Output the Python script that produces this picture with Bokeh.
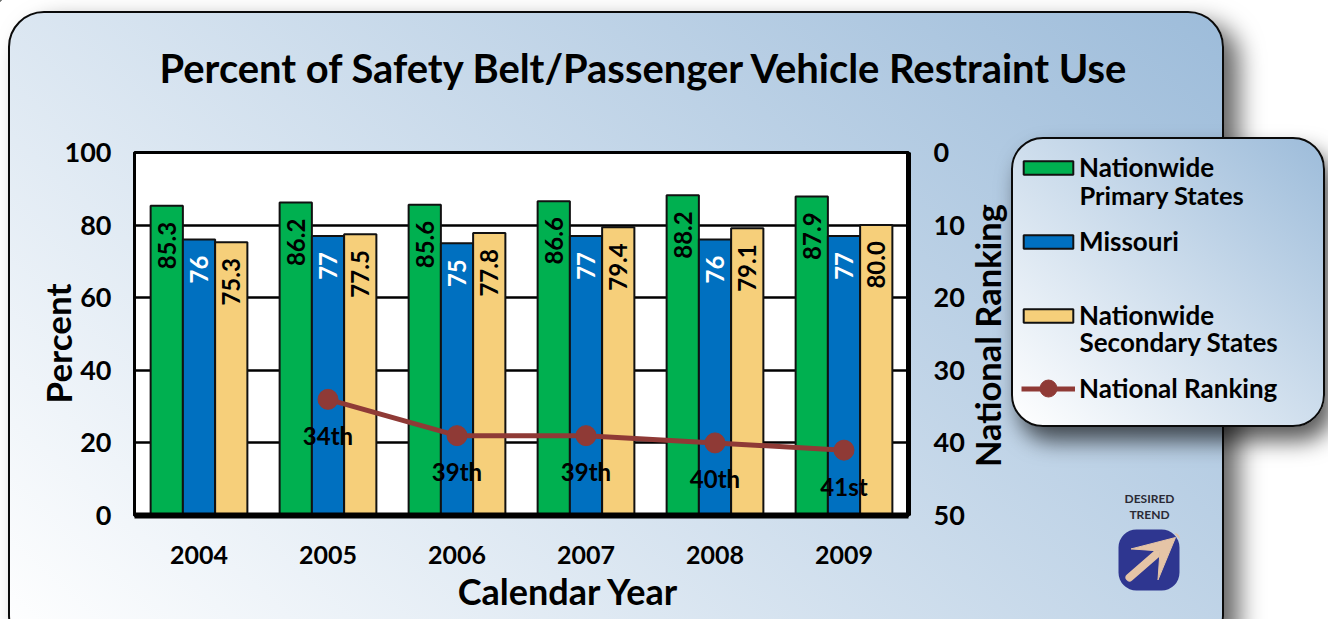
from bokeh.embed import file_html
from bokeh.resources import INLINE
from bokeh.plotting import figure
from bokeh.layouts import column
from bokeh.models import (Range1d, LinearAxis, FixedTicker, Legend, LegendItem, BoxAnnotation, Grid,
                          Arrow, VeeHead, InlineStyleSheet, NumeralTickFormatter)
from bokeh.core.properties import value

years = [2004, 2005, 2006, 2007, 2008, 2009]
primary = [85.3, 86.2, 85.6, 86.6, 88.2, 87.9]
missouri = [76, 77, 75, 77, 76, 77]
secondary = [75.3, 77.5, 77.8, 79.4, 79.1, 80.0]
rank_years = [2005, 2006, 2007, 2008, 2009]
ranks = [34, 39, 39, 40, 41]
rank_labels = ["34th", "39th", "39th", "40th", "41st"]
primary_labels = ["85.3", "86.2", "85.6", "86.6", "88.2", "87.9"]
missouri_labels = ["76", "77", "75", "77", "76", "77"]
secondary_labels = ["75.3", "77.5", "77.8", "79.4", "79.1", "80.0"]

FONT = "Lato"
GREEN, BLUE, TAN, RED = "#00b050", "#0070c0", "#f6cf7a", "#8f3a36"
W, H = 1328, 619

css = """
:host { position: relative; }
:host::before {
  content: ""; position: absolute; z-index: -1; box-sizing: border-box;
  left: 8px; top: 11px; width: 1216px; height: 640px; border-radius: 36px;
  border: 2.5px solid #0a0a0a;
  background: linear-gradient(42deg, #ffffff 0%, #9dbcda 100%);
  box-shadow: 15px 12px 24px rgba(0,0,0,0.6);
}
:host::after {
  content: ""; position: absolute; z-index: -1; box-sizing: border-box;
  left: 1011px; top: 137px; width: 314px; height: 290px; border-radius: 32px;
  border: 2.5px solid #0a0a0a;
  background: linear-gradient(42deg, #ffffff 0%, #9dbcda 100%);
  box-shadow: 8px 14px 22px rgba(0,0,0,0.65);
}
"""

p = figure(width=W, height=H, output_backend="svg", toolbar_location=None,
           x_range=Range1d(2003.5, 2009.5), y_range=Range1d(0, 100),
           min_border_left=134, min_border_right=420, min_border_top=152, min_border_bottom=104,
           background_fill_color="white", border_fill_alpha=0, x_axis_type=None, y_axis_type=None,
           frame_align=False, stylesheets=[InlineStyleSheet(css=css)])
p.extra_y_ranges = {"rank": Range1d(50, 0)}
p.outline_line_color = "black"
p.outline_line_width = 3

def style_axis(ax, line_width, standoff, size="27px"):
    ax.major_tick_line_color = None
    ax.minor_tick_line_color = None
    ax.axis_line_color = "black"
    ax.axis_line_width = line_width
    ax.major_label_standoff = standoff
    ax.major_label_text_font = FONT
    ax.major_label_text_font_style = "bold"
    ax.major_label_text_font_size = size
    ax.major_label_text_color = "black"

left = LinearAxis(ticker=FixedTicker(ticks=[0, 20, 40, 60, 80, 100]))
right = LinearAxis(y_range_name="rank", ticker=FixedTicker(ticks=[0, 10, 20, 30, 40, 50]))
bottom = LinearAxis(ticker=FixedTicker(ticks=years), formatter=NumeralTickFormatter(format="0"))
style_axis(left, 3, 17)
style_axis(right, 5, 19)
style_axis(bottom, 6, 24, "25px")
p.add_layout(left, "left")
p.add_layout(right, "right")
p.add_layout(bottom, "below")
p.add_layout(Grid(dimension=1, ticker=FixedTicker(ticks=[20, 40, 60, 80]), grid_line_color="black", grid_line_width=2.5))

BW = 0.25
def bars(fig, vals, off, color, labels, tcolor):
    xs = [y + off for y in years]
    r = fig.vbar(x=xs, top=vals, bottom=0, width=BW, fill_color=color, line_color="#111111", line_width=2)
    fig.text(x=xs, y=vals, text=labels, angle=1.5708, y_offset=16, text_align="right", text_baseline="middle",
             text_font=value(FONT), text_font_style="bold", text_font_size="24px", text_color=tcolor)
    return r

bars(p, primary, -BW, GREEN, primary_labels, "black")
bars(p, missouri, 0, BLUE, missouri_labels, "white")
bars(p, secondary, BW, TAN, secondary_labels, "black")
p.line(rank_years, ranks, y_range_name="rank", line_color=RED, line_width=5)
p.scatter(rank_years, ranks, y_range_name="rank", size=20, fill_color=RED, line_color=RED)
p.text(x=rank_years, y=ranks, y_range_name="rank", text=rank_labels, y_offset=36, text_align="center",
       text_baseline="middle", text_font=value(FONT), text_font_style="bold", text_font_size="24px", text_color="black")

# transparent layer whose frame is the whole page: title, axis titles, legend, trend badge
d = figure(width=W, height=H, output_backend="svg", toolbar_location=None,
           x_range=Range1d(0, W), y_range=Range1d(H, 0), min_border=0, x_axis_type=None, y_axis_type=None,
           background_fill_alpha=0, border_fill_alpha=0, outline_line_color=None, margin=(-H, 0, 0, 0),
           frame_align=False)

def txt(t, X, Y, size, angle=0, color="black", align="center"):
    d.text(x=[X], y=[Y], text=[t], angle=angle, text_align=align, text_baseline="middle",
           text_font=value(FONT), text_font_style="bold", text_font_size=size, text_color=color)

txt("Percent of Safety Belt/Passenger Vehicle Restraint Use", 644.5, 67, "39.9px")
txt("Percent", 57, 343, "35px", 1.5708)
txt("National Ranking", 987, 335, "34.5px", 1.5708)
txt("Calendar Year", 568, 590, "36px")
txt("Primary States", 1079, 194, "25.5px", align="left")
txt("Secondary States", 1079, 341, "26px", align="left")
txt("DESIRED", 1149, 498, "12px", color="#2a2a35")
txt("TREND", 1149, 514, "12px", color="#2a2a35")

# legend keys only: their single points lie off the page
OFF = [-500]
lg = [d.vbar(x=OFF, top=OFF, bottom=[-510], width=1, fill_color=c, line_color="#111111", line_width=2)
      for c in (GREEN, BLUE, TAN)]
ll = d.line(x=OFF, y=OFF, line_color=RED, line_width=5)
common = dict(background_fill_alpha=0, border_line_alpha=0, padding=0, margin=0,
              label_text_font=FONT, label_text_font_style="bold", label_text_font_size="26px",
              label_text_color="black")
legend = Legend(items=[LegendItem(label="Nationwide", renderers=[lg[0]]),
                       LegendItem(label="Missouri", renderers=[lg[1]]),
                       LegendItem(label="Nationwide", renderers=[lg[2]])],
                location=(1017, 288), glyph_width=62, glyph_height=17, label_standoff=0, spacing=42, **common)
legend2 = Legend(items=[LegendItem(label="National Ranking", renderers=[ll])],
                 location=(1021, 215), glyph_width=54, glyph_height=17, label_standoff=4, **common)
d.add_layout(legend, "center")
d.add_layout(legend2, "center")
d.scatter(x=[1048], y=[388], size=17, fill_color=RED, line_color=RED)

d.add_layout(BoxAnnotation(left=1118, right=1179, top=529, bottom=590, fill_color="#2e3690", fill_alpha=1,
                           line_color=None, border_radius=18))
d.add_layout(Arrow(x_start=1129, y_start=577, x_end=1175, y_end=537, line_color="#e5c4a6", line_width=8,
                   line_cap="round", end=VeeHead(size=41, fill_color="#e5c4a6", line_color="#e5c4a6", line_width=1)))

html = file_html(column(p, d, spacing=0), INLINE)
open("out.html", "w").write(html.replace("<head>", "<head><style>html,body{overflow:hidden}</style>", 1))
